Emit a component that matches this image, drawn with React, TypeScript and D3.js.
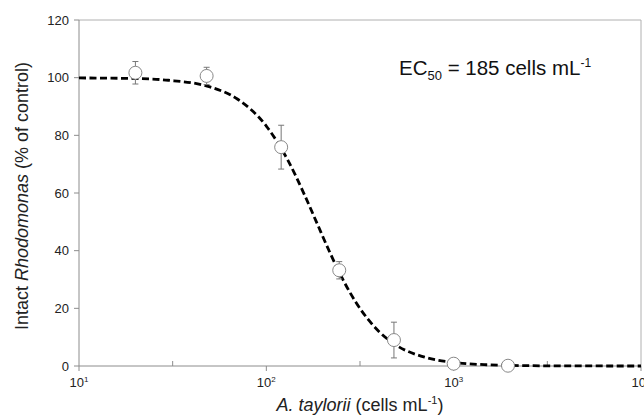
import React from 'react';
import * as d3 from 'd3';

// observed points
const doses = [20, 48, 120, 245, 480, 1000, 1950];
const intact = [101.7, 100.6, 75.9, 33.2, 9.0, 0.8, 0.1];
const errs = [3.9, 3.0, 7.6, 3.0, 6.2, 0, 0];

// fitted dose-response line
const fitDoses = [10, 20, 30, 50, 70, 100, 130, 160, 185, 220, 260, 300, 400, 500, 700, 1000, 1500, 2000, 3000, 5000, 10000];
const fitValues = [99.9, 99.7, 99.1, 96.8, 92.6, 83.2, 71.5, 59.3, 50, 38.9, 29.2, 22.2, 11.9, 7.0, 3.05, 1.23, 0.43, 0.2, 0.07, 0.02, 0.0];

const yTicks = [0, 20, 40, 60, 80, 100, 120];
const xDecades = [1, 2, 3, 4];

const W = 644;
const H = 419;
const margin = {left: 79, right: 3, top: 20, bottom: 53};

export default function App() {
    const x = d3.scaleLog().domain([10, 10000]).range([margin.left, W - margin.right]);
    const y = d3.scaleLinear().domain([0, 120]).range([H - margin.bottom, margin.top]);

    const line = d3.line<number>()
        .x((d, i) => x(fitDoses[i]))
        .y(d => y(d))
        .curve(d3.curveMonotoneX);

    const axisColor = '#8c8c8c';
    const font = 'Liberation Sans, Arial, sans-serif';
    const x0 = margin.left;
    const x1 = x(10000);
    const yb = H - margin.bottom;

    return (
        <svg width={W} height={H} style={{position: 'absolute', left: 0, top: 0, background: '#fff'}}
             fontFamily={font}>
            {/* plot frame (top, right) */}
            <line x1={x0} x2={x1} y1={y(120)} y2={y(120)} stroke="#b0b0b0"/>
            <line x1={x1} x2={x1} y1={y(120)} y2={yb} stroke="#b0b0b0"/>
            {/* y axis */}
            <line x1={x0} x2={x0} y1={y(120)} y2={yb} stroke={axisColor} strokeWidth={1}/>
            {yTicks.map(t => (
                <g key={t}>
                    <line x1={x0 - 5} x2={x0} y1={y(t)} y2={y(t)} stroke={axisColor}/>
                    <text x={x0 - 10} y={y(t)} dy="0.35em" textAnchor="end" fontSize={13} fill="#222">{t}</text>
                </g>
            ))}
            {/* x axis */}
            <line x1={x0} x2={x1} y1={yb} y2={yb} stroke={axisColor}/>
            {xDecades.map(e => (
                <g key={e}>
                    <line x1={x(Math.pow(10, e))} x2={x(Math.pow(10, e))} y1={yb} y2={yb + 5} stroke={axisColor}/>
                    <text x={x(Math.pow(10, e))} y={yb + 21} textAnchor="middle" fontSize={13} fill="#222">
                        10<tspan fontSize={8} dy={-5}>{e}</tspan>
                    </text>
                </g>
            ))}
            {xDecades.slice(0, 3).map(e => (
                <line key={'m' + e} x1={x(Math.pow(10, e + 0.5))} x2={x(Math.pow(10, e + 0.5))}
                      y1={yb - 5} y2={yb} stroke={axisColor}/>
            ))}

            {/* fitted curve */}
            <path d={line(fitValues) || ''} fill="none" stroke="#000" strokeWidth={2.8}
                  strokeDasharray="7,3.5"/>

            {/* error bars */}
            {doses.map((d, i) => errs[i] > 0 && (
                <g key={'e' + i} stroke="#777" strokeWidth={1}>
                    <line x1={x(d)} x2={x(d)} y1={y(intact[i] + errs[i])} y2={y(intact[i] - errs[i])}/>
                    <line x1={x(d) - 3} x2={x(d) + 3} y1={y(intact[i] + errs[i])} y2={y(intact[i] + errs[i])}/>
                    <line x1={x(d) - 3} x2={x(d) + 3} y1={y(intact[i] - errs[i])} y2={y(intact[i] - errs[i])}/>
                </g>
            ))}
            {/* points */}
            {doses.map((d, i) => (
                <circle key={'p' + i} cx={x(d)} cy={y(intact[i])} r={6.5} fill="#fff" stroke="#888" strokeWidth={1}/>
            ))}

            {/* EC50 label */}
            <text x={399} y={75} fontSize={20.5} fill="#111">
                EC<tspan fontSize={13} dy={5}>50</tspan><tspan dy={-5}> = 185 cells mL</tspan><tspan fontSize={12} dy={-8}>-1</tspan>
            </text>

            {/* axis titles */}
            <text x={360} y={411} textAnchor="middle" fontSize={18} fill="#222">
                <tspan fontStyle="italic">A. taylorii</tspan> (cells mL<tspan fontSize={11} dy={-7}>-1</tspan><tspan dy={7}>)</tspan>
            </text>
            <text transform="translate(28,196) rotate(-90)" textAnchor="middle" fontSize={18} fill="#222">
                Intact <tspan fontStyle="italic">Rhodomonas</tspan> (% of control)
            </text>
        </svg>
    );
}
